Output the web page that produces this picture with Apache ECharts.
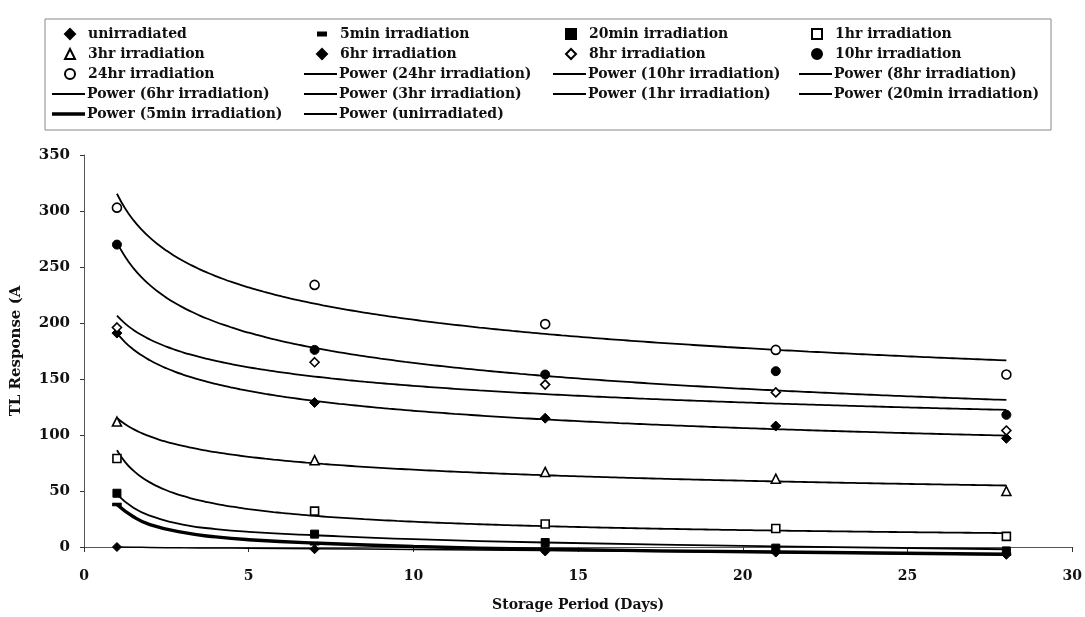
<!DOCTYPE html>
<html><head><meta charset="utf-8">
<script src="https://cdn.jsdelivr.net/npm/echarts@6/dist/echarts.min.js"></script>
<style>html,body{margin:0;padding:0;background:#fff}#c{width:1085px;height:617px}</style>
</head><body><div id="c"></div>
<script>
// ---- data ----
const days = [1, 7, 14, 21, 28];
const unirradiated = [0, -2, -4, -5, -7];
const min5 = [38, 3, -2, -4.5, -6.5];
const min20 = [48, 11.5, 4, -1, -3.5];
const hr1 = [79, 32, 20.5, 16.5, 9.5];
const hr3 = [112, 77.5, 67, 61, 50];
const hr6 = [191, 129, 115, 108, 97];
const hr8 = [196, 165, 145, 138, 104];
const hr10 = [270, 176, 154, 157, 118];
const hr24 = [303, 234, 199, 176, 154];
// trend curves of the series that contain zero / negative values
const trendDays = [1, 1.5, 2, 3, 4, 5, 7, 10, 14, 21, 28];
const trendMin20 = [47, 35, 28, 20, 16, 13.5, 10.5, 7, 4, 0.5, -2];
const trendMin5 = [38, 27, 20, 13, 9, 6.5, 3.5, 0.5, -2, -4.5, -6.5];
const trendUnirr = [0, -0.2, -0.4, -0.7, -0.9, -1.1, -1.6, -2.2, -3.2, -5, -7];
const xTicks = [0, 5, 10, 15, 20, 25, 30];
const yTicks = [0, 50, 100, 150, 200, 250, 300, 350];

// ---- power trendline (least squares on log-log, as a spreadsheet does) ----
function powerTrend(xs, ys) {
  const lx = xs.map(Math.log), ly = ys.map(Math.log);
  const n = xs.length;
  const mx = lx.reduce((a, b) => a + b, 0) / n, my = ly.reduce((a, b) => a + b, 0) / n;
  let sxy = 0, sxx = 0;
  for (let i = 0; i < n; i++) { sxy += (lx[i] - mx) * (ly[i] - my); sxx += (lx[i] - mx) ** 2; }
  const b = sxy / sxx, a = Math.exp(my - b * mx);
  const pts = [];
  for (let x = xs[0]; x <= xs[n - 1] + 1e-9; x += 0.25) pts.push([x, a * Math.pow(x, b)]);
  return pts;
}
const zip = (xs, ys) => xs.map((x, i) => [x, ys[i]]);

const FONT = 'DejaVu Serif';
const filled = { color: '#000', borderColor: '#000', borderWidth: 1, opacity: 1 };
const open = { color: '#fff', borderColor: '#000', borderWidth: 1.6, opacity: 1 };

const scatterDefs = [
  ['unirradiated', unirradiated, 'diamond', 9, filled],
  ['5min irradiation', min5, 'rect', [8, 3], filled],
  ['20min irradiation', min20, 'rect', 8, filled],
  ['1hr irradiation', hr1, 'rect', 8, open],
  ['3hr irradiation', hr3, 'triangle', 9, open],
  ['6hr irradiation', hr6, 'diamond', 10, filled],
  ['8hr irradiation', hr8, 'diamond', 9, open],
  ['10hr irradiation', hr10, 'circle', 9, filled],
  ['24hr irradiation', hr24, 'circle', 9, open]
];
const trendDefs = [
  ['Power (24hr irradiation)', powerTrend(days, hr24), 1.8],
  ['Power (10hr irradiation)', powerTrend(days, hr10), 1.8],
  ['Power (8hr irradiation)', powerTrend(days, hr8), 1.8],
  ['Power (6hr irradiation)', powerTrend(days, hr6), 1.8],
  ['Power (3hr irradiation)', powerTrend(days, hr3), 1.8],
  ['Power (1hr irradiation)', powerTrend(days, hr1), 1.8],
  ['Power (20min irradiation)', zip(trendDays, trendMin20), 1.8],
  ['Power (5min irradiation)', zip(trendDays, trendMin5), 3.4],
  ['Power (unirradiated)', zip(trendDays, trendUnirr), 1.5]
];

const series = [];
trendDefs.forEach(([name, pts, w]) => series.push({
  name, type: 'line', data: pts, smooth: true, symbol: 'none', clip: false,
  lineStyle: { color: '#000', width: w }, itemStyle: { color: '#000', opacity: 1 }, z: 2
}));
scatterDefs.forEach(([name, vals, sym, size, st]) => series.push({
  name, type: 'scatter', data: zip(days, vals), symbol: sym, symbolSize: size,
  clip: false, itemStyle: st, z: 5
}));

// legend layout: 4 columns x 5 rows
const legendOrder = [
  'unirradiated', '5min irradiation', '20min irradiation', '1hr irradiation',
  '3hr irradiation', '6hr irradiation', '8hr irradiation', '10hr irradiation',
  '24hr irradiation', 'Power (24hr irradiation)', 'Power (10hr irradiation)', 'Power (8hr irradiation)',
  'Power (6hr irradiation)', 'Power (3hr irradiation)', 'Power (1hr irradiation)', 'Power (20min irradiation)',
  'Power (5min irradiation)', 'Power (unirradiated)'
];
const colText = [87, 339, 588, 834];
const rowMid = [33, 53, 73, 93, 113];
const legends = legendOrder.map((name, i) => {
  const col = i % 4, row = Math.floor(i / 4);
  const isLine = name.startsWith('Power');
  const thick = name === 'Power (5min irradiation)';
  let iw, ih, gap, item;
  if (isLine) { iw = 33; ih = thick ? 3.5 : 1.8; gap = 2; item = { name, icon: 'rect' }; }
  else if (name === '5min irradiation') { iw = 8; ih = 3; gap = 14; item = { name }; }
  else { iw = 10; ih = 10; gap = 13; item = { name }; }
  const lg = {
    data: [item], left: colText[col] - iw - gap, top: rowMid[row] - 6, padding: 0,
    itemWidth: iw, itemHeight: ih, itemGap: 0, selectedMode: false,
    textStyle: { fontFamily: FONT, fontSize: 14, fontWeight: 'bold', color: '#111', padding: [0, 0, 0, gap - 5] }
  };
  if (isLine) lg.itemStyle = { color: '#000', borderWidth: 0, opacity: 1 };
  return lg;
});

const chart = echarts.init(document.getElementById('c'), null, { renderer: 'canvas' });
chart.setOption({
  backgroundColor: '#fff',
  animation: false,
  legend: legends,
  graphic: [{
    type: 'rect', shape: { x: 45, y: 19, width: 1006, height: 111 },
    style: { fill: 'none', stroke: '#888', lineWidth: 1 }, z: -1
  }],
  grid: { left: 84, right: 5, top: 155, bottom: 69, containLabel: false },
  xAxis: {
    type: 'value', min: xTicks[0], max: xTicks[xTicks.length - 1], interval: xTicks[1] - xTicks[0],
    name: 'Storage Period (Days)', nameLocation: 'middle', nameGap: 51,
    nameTextStyle: { fontFamily: FONT, fontSize: 14, fontWeight: 'bold', color: '#111' },
    axisLine: { show: true, lineStyle: { color: '#555', width: 1 } },
    axisTick: { show: true, inside: false, length: 5, lineStyle: { color: '#333' } },
    axisLabel: { fontFamily: FONT, fontSize: 14, fontWeight: 'bold', color: '#111', margin: 22 },
    splitLine: { show: false }
  },
  yAxis: {
    type: 'value', min: yTicks[0], max: yTicks[yTicks.length - 1], interval: yTicks[1] - yTicks[0],
    name: 'TL Response (A', nameLocation: 'middle', nameGap: 60,
    nameTextStyle: { fontFamily: FONT, fontSize: 15, fontWeight: 'bold', color: '#111' },
    axisLine: { show: true, lineStyle: { color: '#555', width: 1 } },
    axisTick: { show: true, inside: false, length: 4, lineStyle: { color: '#333' } },
    axisLabel: { fontFamily: FONT, fontSize: 15, fontWeight: 'bold', color: '#111', margin: 14 },
    splitLine: { show: false }
  },
  series
});
</script></body></html>
